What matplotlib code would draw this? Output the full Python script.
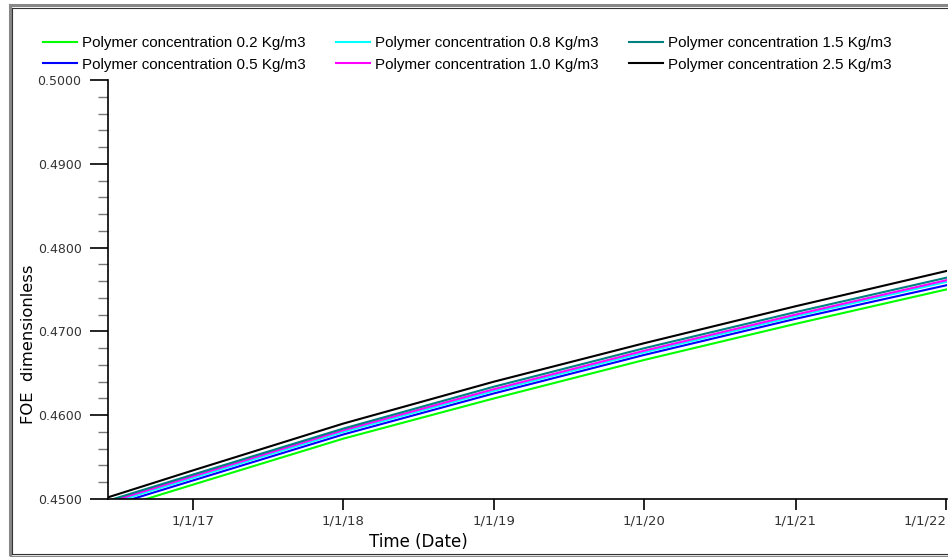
import numpy as np
import matplotlib
matplotlib.use('Agg')
from matplotlib import pyplot as plt
from matplotlib.lines import Line2D
from matplotlib.ticker import MultipleLocator, FormatStrFormatter
import matplotlib.dates as mdates

dates = np.array(['2016-06-10', '2017-01-01', '2018-01-01', '2019-01-01',
                  '2020-01-01', '2021-01-01', '2022-01-01'], dtype='datetime64[D]')
foe_02 = [0.4486, 0.4517, 0.4572, 0.4620, 0.4666, 0.4709, 0.4750]
foe_05 = [0.4491, 0.4522, 0.4577, 0.4626, 0.4672, 0.4715, 0.4755]
foe_08 = [0.4494, 0.4525, 0.4580, 0.4629, 0.4675, 0.4718, 0.4759]
foe_10 = [0.4496, 0.4527, 0.4582, 0.4631, 0.4677, 0.4720, 0.4761]
foe_15 = [0.4498, 0.4529, 0.4584, 0.4634, 0.4680, 0.4723, 0.4764]
foe_25 = [0.4502, 0.4534, 0.4590, 0.4640, 0.4686, 0.4730, 0.4772]

labels = ['Polymer concentration 0.2 Kg/m3', 'Polymer concentration 0.5 Kg/m3',
          'Polymer concentration 0.8 Kg/m3', 'Polymer concentration 1.0 Kg/m3',
          'Polymer concentration 1.5 Kg/m3', 'Polymer concentration 2.5 Kg/m3']
series = [foe_02, foe_05, foe_08, foe_10, foe_15, foe_25]
colors = ['#00ff00', '#0000ff', '#00ffff', '#ff00ff', '#008080', '#000000']

fig = plt.figure(figsize=(9.48, 5.57), dpi=100)
ax = fig.add_axes([108 / 948, 1 - 499 / 557, 839 / 948, 419 / 557])

xd = dates.astype('datetime64[s]').astype(object)
for vals, c in zip(series, colors):
    ax.plot(xd, vals, color=c, lw=1.5)

ax.set_ylim(0.45, 0.50)
ax.set_xlim(np.datetime64('2016-06-10').astype(object), np.datetime64('2022-01-03').astype(object))
ax.yaxis.set_major_locator(MultipleLocator(0.01))
ax.yaxis.set_minor_locator(MultipleLocator(0.002))
ax.yaxis.set_major_formatter(FormatStrFormatter('%.4f'))
ax.xaxis.set_major_locator(mdates.YearLocator())
ax.xaxis.set_major_formatter(mdates.DateFormatter('1/1/%y'))

for s in ['top', 'right']:
    ax.spines[s].set_visible(False)
ax.spines['left'].set_linewidth(1.2)
ax.spines['bottom'].set_linewidth(1.2)
ax.tick_params(axis='y', which='major', length=13, width=1.2, labelsize=9,
               labelcolor='#333333', pad=6)
ax.tick_params(axis='y', which='minor', length=7, width=1, color='#777777')
ax.tick_params(axis='x', which='major', length=8, width=1.2, labelsize=9.5,
               labelcolor='#333333', pad=3)

# last date label sits against the right edge
fig.canvas.draw()
ax.get_xticklabels()[-1].set_ha('right')
last = ax.xaxis.get_major_ticks()[-1]
last.label1.set_horizontalalignment('right')

fig.text(418 / 948, 1 - 542 / 557, 'Time (Date)', ha='center', va='center', fontsize=12)
fig.text(29 / 948, 1 - 344 / 557, 'FOE  dimensionless', ha='center', va='center',
         rotation=90, fontsize=11.8)

handles = [Line2D([], [], color=c, lw=1.5) for c in colors]
fig.legend(handles, labels, ncol=3, loc='upper left', bbox_to_anchor=(43 / 948, 1 - 36 / 557),
           frameon=False, borderpad=0, borderaxespad=0, handlelength=2.25, handletextpad=0.33,
           columnspacing=2.0, labelspacing=0.5, prop={'family': 'Liberation Sans', 'size': 10.9})

# outer frame
fig.add_artist(Line2D([9.5 / 948, 9.5 / 948], [1 - 554 / 557, 1 - 4.5 / 557], color='#888888', lw=2.2))
fig.add_artist(Line2D([9.5 / 948, 1], [1 - 4.5 / 557, 1 - 4.5 / 557], color='#888888', lw=2.2))
fig.add_artist(Line2D([12 / 948, 12 / 948], [1 - 554 / 557, 1 - 8 / 557], color='#333333', lw=0.8))
fig.add_artist(Line2D([12 / 948, 1], [1 - 8 / 557, 1 - 8 / 557], color='#333333', lw=0.8))
fig.add_artist(Line2D([12 / 948, 1], [1 - 554 / 557, 1 - 554 / 557], color='#333333', lw=0.8))
fig.add_artist(Line2D([9.5 / 948, 1], [1 - 556 / 557, 1 - 556 / 557], color='#888888', lw=1))

fig.savefig('out.png', dpi=100)
